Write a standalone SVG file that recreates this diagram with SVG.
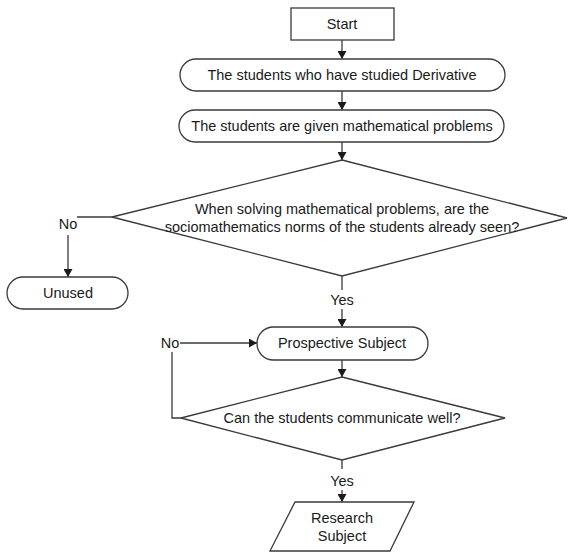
<svg xmlns="http://www.w3.org/2000/svg" width="568" height="553" viewBox="0 0 568 553">
<defs>
<marker id="arr" markerWidth="8" markerHeight="9" refX="8" refY="4.5" orient="auto" markerUnits="userSpaceOnUse">
<path d="M0,0 L8,4.5 L0,9 Z" fill="#1a1a1a"/>
</marker>
<style>
.s{fill:#fff;stroke:#3a3a3a;stroke-width:1.3}
.c{fill:none;stroke:#3a3a3a;stroke-width:1.3}
.a{marker-end:url(#arr)}
text{font-family:"Liberation Sans",Arial,sans-serif;font-size:14.5px;fill:#1a1a1a;text-anchor:middle}
</style>
</defs>
<rect width="568" height="553" fill="#fff"/>
<g id="connectors">
<line class="c a" x1="342" y1="40" x2="342" y2="59"/>
<line class="c a" x1="342" y1="91" x2="342" y2="110"/>
<line class="c a" x1="342" y1="142" x2="342" y2="160"/>
<polyline class="c" points="112,217 77,217"/>
<line class="c a" x1="68" y1="235" x2="68" y2="277"/>
<line class="c" x1="342" y1="276" x2="342" y2="290"/>
<line class="c a" x1="342" y1="309" x2="342" y2="327"/>
<line class="c a" x1="342" y1="360" x2="342" y2="377"/>
<polyline class="c" points="181,418 172,418 172,352"/>
<line class="c a" x1="180" y1="343" x2="257" y2="343"/>
<line class="c" x1="342" y1="460" x2="342" y2="469"/>
<line class="c a" x1="342" y1="490" x2="342" y2="502"/>
<text x="68" y="229">No</text>
<text x="342" y="305">Yes</text>
<text x="170" y="348">No</text>
<text x="342" y="486">Yes</text>
</g>
<g id="start">
<rect class="s" x="291" y="8" width="103" height="32"/>
<text x="342" y="29">Start</text>
</g>
<g id="studied">
<rect class="s" x="180" y="59" width="325" height="32" rx="16"/>
<text x="342" y="80">The students who have studied Derivative</text>
</g>
<g id="given">
<rect class="s" x="179" y="110" width="325" height="32" rx="16"/>
<text x="342" y="131">The students are given mathematical problems</text>
</g>
<g id="decision1">
<polygon class="s" points="342,160 567,218 342,276 112,217"/>
<text x="342" y="214">When solving mathematical problems, are the</text>
<text x="342" y="232">sociomathematics norms of the students already seen?</text>
</g>
<g id="unused">
<rect class="s" x="7" y="277" width="121" height="32" rx="16"/>
<text x="68" y="298">Unused</text>
</g>
<g id="prospective">
<rect class="s" x="257" y="327" width="171" height="33" rx="16.5"/>
<text x="342" y="348">Prospective Subject</text>
</g>
<g id="decision2">
<polygon class="s" points="342,377 505,418 342,460 181,418"/>
<text x="342" y="423">Can the students communicate well?</text>
</g>
<g id="research">
<polygon class="s" points="295,502 414,502 390,551 270,551"/>
<text x="342" y="523">Research</text>
<text x="342" y="541">Subject</text>
</g>
</svg>
